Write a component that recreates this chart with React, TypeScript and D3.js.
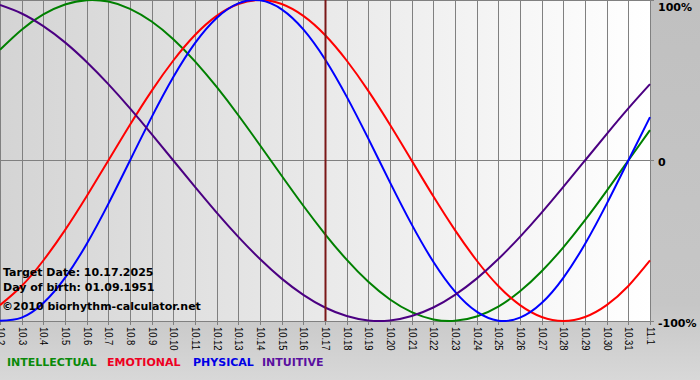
import React from "react";
import * as d3 from "d3";

const days = ["10.2","10.3","10.4","10.5","10.6","10.7","10.8","10.9","10.10","10.11","10.12","10.13","10.14","10.15","10.16","10.17","10.18","10.19","10.20","10.21","10.22","10.23","10.24","10.25","10.26","10.27","10.28","10.29","10.30","10.31","11.1"];

const intellectual = [69.0, 81.5, 91.0, 97.2, 99.9, 99.0, 94.5, 86.6, 75.6, 61.8, 45.8, 28.2, 9.5, -9.5, -28.2, -45.8, -61.8, -75.6, -86.6, -94.5, -99.0, -99.9, -97.2, -91.0, -81.5, -69.0, -54.1, -37.2, -18.9, 0, 18.9];
const emotional = [-90.1, -78.2, -62.3, -43.4, -22.3, 0, 22.3, 43.4, 62.3, 78.2, 90.1, 97.5, 100, 97.5, 90.1, 78.2, 62.3, 43.4, 22.3, 0, -22.3, -43.4, -62.3, -78.2, -90.1, -97.5, -100, -97.5, -90.1, -78.2, -62.3];
const physical = [-99.8, -97.9, -88.8, -73.1, -52.0, -27.0, 0, 27.0, 52.0, 73.1, 88.8, 97.9, 99.8, 94.2, 81.7, 63.1, 39.8, 13.6, -13.6, -39.8, -63.1, -81.7, -94.2, -99.8, -97.9, -88.8, -73.1, -52.0, -27.0, 0, 27.0];
const intuitive = [96.9, 91.6, 83.7, 73.6, 61.4, 47.6, 32.5, 16.5, 0, -16.5, -32.5, -47.6, -61.4, -73.6, -83.7, -91.6, -96.9, -99.7, -99.7, -96.9, -91.6, -83.7, -73.6, -61.4, -47.6, -32.5, -16.5, 0, 16.5, 32.5, 47.6];

const yTicks = [100, 0, -100];
const yTickLabels = ["100%", "0", "-100%"];
const targetDay = "10.17";
const infoLines = ["Target Date: 10.17.2025", "Day of birth: 01.09.1951"];
const copyright = "\u00A92010 biorhythm-calculator.net";

const seriesNames = ["INTELLECTUAL", "EMOTIONAL", "PHYSICAL", "INTUITIVE"];
const seriesValues = [intellectual, emotional, physical, intuitive];
const seriesColors = ["#008000", "#ff0000", "#0000ff", "#4b0082"];
const legendColors = ["#0a8a0a", "#ee0022", "#0000e6", "#5a10a0"];
const legendX = [7, 107, 193, 262];

const W = 700, H = 380;
const plotL = 0, plotR = 650, plotT = 0, plotB = 321;

export default function App() {
  const x = d3.scaleLinear().domain([0, days.length - 1]).range([plotL, plotR]);
  const y = d3.scaleLinear().domain([-100, 100]).range([plotB, plotT]);
  const line = d3.line<number>().x((_, i) => x(i)).y((v) => y(v)).curve(d3.curveNatural);
  const crisp = (v: number) => Math.round(v) + 0.5;
  const tIdx = days.indexOf(targetDay);
  const font = "'DejaVu Sans', Verdana, sans-serif";

  return (
    <svg width={W} height={H} style={{ position: "absolute", left: 0, top: 0, display: "block" }}>
      <defs>
        <linearGradient id="bg" x1="0" y1="0" x2="0" y2="1">
          <stop offset="0%" stopColor="#c0c0c0" />
          <stop offset="80%" stopColor="#c6c6c6" />
          <stop offset="100%" stopColor="#d8d8d8" />
        </linearGradient>
        <linearGradient id="plotbg" x1="0" y1="0" x2="1" y2="0">
          <stop offset="0%" stopColor="#d4d4d4" />
          <stop offset="100%" stopColor="#ffffff" />
        </linearGradient>
        <clipPath id="clip">
          <rect x={plotL} y={plotT} width={plotR - plotL + 1} height={plotB - plotT + 1} />
        </clipPath>
      </defs>
      <rect x={0} y={0} width={W} height={H} fill="url(#bg)" />
      <rect x={plotL} y={plotT} width={plotR - plotL} height={plotB - plotT} fill="url(#plotbg)" />
      {days.map((d, i) => (
        <line key={"g" + d} x1={crisp(x(i))} x2={crisp(x(i))} y1={plotT} y2={plotB + 4} stroke="#808080" strokeWidth={1} />
      ))}
      <line x1={plotL} x2={plotR} y1={0.5} y2={0.5} stroke="#808080" />
      {yTicks.map((t) => (
        <line key={"h" + t} x1={plotL} x2={plotR + 4} y1={crisp(y(t) - 0.5)} y2={crisp(y(t) - 0.5)} stroke="#808080" />
      ))}
      <g clipPath="url(#clip)">
        {seriesValues.map((vals, k) => (
          <path key={seriesNames[k]} d={line(vals) || ""} fill="none" stroke={seriesColors[k]} strokeWidth={2} />
        ))}
      </g>
      <line x1={x(tIdx) + 0.5} x2={x(tIdx) + 0.5} y1={plotT} y2={plotB} stroke="#7a1818" strokeWidth={2} />
      {infoLines.map((t, i) => (
        <text key={t} x={3} y={275.5 + i * 15} fontFamily={font} fontWeight="bold" fontSize={11} fill="#000">{t}</text>
      ))}
      <text x={2} y={310} fontFamily={font} fontWeight="bold" fontSize={11} fill="#000">{copyright}</text>
      {yTicks.map((t, i) => (
        <text key={"yl" + t} x={658} y={Math.max(y(t) + 2, 7)} dominantBaseline="central" fontFamily={font} fontWeight="bold" fontSize={11} fill="#000">{yTickLabels[i]}</text>
      ))}
      {days.map((d, i) => (
        <text key={"xl" + d} transform={`translate(${crisp(x(i))},327) rotate(90) scale(0.9,1)`} dominantBaseline="central" fontFamily="'Liberation Sans', Arial, sans-serif" fontSize={10.5} fill="#000">{d}</text>
      ))}
      {seriesNames.map((n, k) => (
        <text key={"lg" + n} x={legendX[k]} y={366} fontFamily={font} fontWeight="bold" fontSize={11} fill={legendColors[k]}>{n}</text>
      ))}
    </svg>
  );
}
